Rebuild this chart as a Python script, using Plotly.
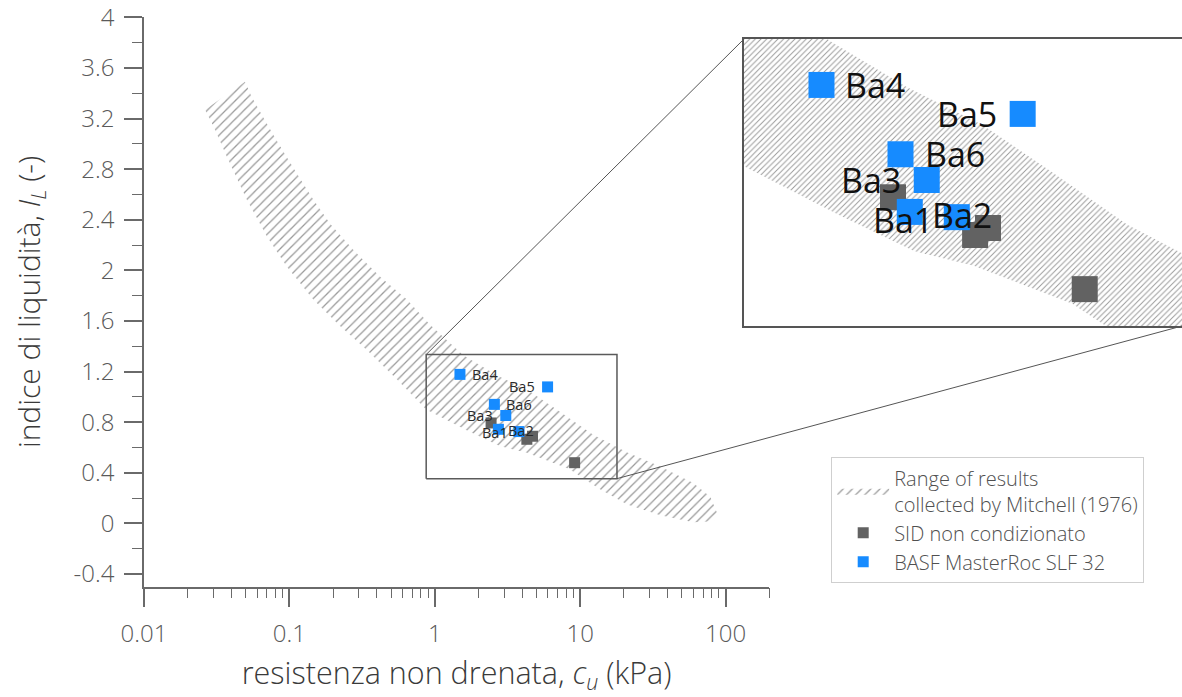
import math
import plotly.graph_objects as go

# Range of results collected by Mitchell (1976): upper and lower boundary of the band
band_upper_cu = [0.0495, 0.0551, 0.0699, 0.0863, 0.112, 0.146, 0.19, 0.276, 0.421, 0.643,
                 0.929, 1.57, 2.69, 4.54, 7.3, 12.3, 21.1, 35.6, 60.0, 78.5, 89.2]
band_upper_il = [3.49, 3.37, 3.16, 2.98, 2.77, 2.56, 2.37, 2.16, 1.95, 1.77,
                 1.57, 1.33, 1.17, 1.04, 0.88, 0.70, 0.56, 0.45, 0.32, 0.21, 0.06]
band_lower_cu = [0.0263, 0.030, 0.0371, 0.0509, 0.0699, 0.0959, 0.146, 0.223, 0.341, 0.548,
                 0.873, 1.67, 2.82, 4.26, 8.41, 13.7, 21.1, 35.6, 60.0, 82.4]
band_lower_il = [3.27, 3.14, 2.90, 2.56, 2.27, 2.03, 1.77, 1.56, 1.37, 1.14,
                 0.90, 0.735, 0.61, 0.56, 0.43, 0.27, 0.15, 0.064, 0.009, 0.017]

# SID non condizionato
sid_cu = [2.44, 4.70, 4.30, 9.16]
sid_il = [0.794, 0.689, 0.665, 0.48]

# BASF MasterRoc SLF 32
basf_names = ["Ba1", "Ba2", "Ba3", "Ba4", "Ba5", "Ba6"]
basf_cu = [2.74, 3.79, 3.08, 1.49, 5.97, 2.57]
basf_il = [0.744, 0.726, 0.853, 1.178, 1.079, 0.941]

# label placement for each BASF point: anchor and offset (px, at inset scale)
label_anchor = ["center", "center", "right", "left", "right", "left"]
label_dx = [-7, 5, -24, 22, -24, 22]
label_dy = [-8, 2, 0, 0, 0, 0]

# axis ticks
x_tickvals = [0.01, 0.1, 1, 10, 100]
x_ticktext = ["0.01", "0.1", "1", "10", "100"]
y_tickvals = [-0.4, 0, 0.4, 0.8, 1.2, 1.6, 2, 2.4, 2.8, 3.2, 3.6, 4]
y_ticktext = ["-0.4", "0", "0.4", "0.8", "1.2", "1.6", "2", "2.4", "2.8", "3.2", "3.6", "4"]

# zoom window
zoom_cu = [0.873, 17.92]
zoom_il = [0.354, 1.335]

W, H = 1182, 697
FONT = "Open Sans"
BLUE = "#168BFF"
GREY = "#626262"
AXIS = "#6a6a6a"

main_x_range = [-2, math.log10(200)]
main_y_range = [-0.5, 4]
main_x_dom = [144 / W, 769.3 / W]
main_y_dom = [1 - 586.7 / H, 1 - 17.3 / H]
ins_x_dom = [744 / W, 1.0]
ins_y_dom = [1 - 326 / H, 1 - 39 / H]
ins_x_range = [math.log10(zoom_cu[0]), math.log10(zoom_cu[1])]
ins_y_range = zoom_il

band_x = band_upper_cu + band_lower_cu[::-1] + band_upper_cu[:1]
band_y = band_upper_il + band_lower_il[::-1] + band_upper_il[:1]

fig = go.Figure()

for xa, ya, psize, sol, show in (("x", "y", 6.5, 0.2, True), ("x2", "y2", 4, 0.24, False)):
    fig.add_trace(go.Scatter(
        x=band_x, y=band_y, xaxis=xa, yaxis=ya, mode="lines", fill="toself",
        line=dict(width=0, color="rgba(0,0,0,0)"),
        fillcolor="rgba(255,255,255,0)",
        fillpattern=dict(shape="/", size=psize, solidity=sol,
                         fgcolor="#999999", bgcolor="rgba(255,255,255,0)"),
        name="Range of results<br>collected by Mitchell (1976)",
        legendgroup="band", showlegend=show, hoverinfo="skip"))

for xa, ya, msize, show in (("x", "y", 11, True), ("x2", "y2", 26, False)):
    fig.add_trace(go.Scatter(
        x=sid_cu, y=sid_il, xaxis=xa, yaxis=ya, mode="markers",
        marker=dict(symbol="square", size=msize, color=GREY),
        name="SID non condizionato", legendgroup="sid", showlegend=show))
    fig.add_trace(go.Scatter(
        x=basf_cu, y=basf_il, xaxis=xa, yaxis=ya, mode="markers",
        marker=dict(symbol="square", size=msize, color=BLUE),
        text=basf_names, name="BASF MasterRoc SLF 32",
        legendgroup="basf", showlegend=show))

# zoom window outline on the main axes
fig.add_trace(go.Scatter(
    x=[zoom_cu[0], zoom_cu[1], zoom_cu[1], zoom_cu[0], zoom_cu[0]],
    y=[zoom_il[0], zoom_il[0], zoom_il[1], zoom_il[1], zoom_il[0]],
    mode="lines", line=dict(color="#5a5a5a", width=1.5),
    showlegend=False, hoverinfo="skip"))

# point labels, main (small) and inset (large)
scale = (ins_x_dom[1] - ins_x_dom[0]) / (main_x_dom[1] - main_x_dom[0]) * \
    (main_x_range[1] - main_x_range[0]) / (ins_x_range[1] - ins_x_range[0])
for xr, yr, fsize, k, col in (("x", "y", 14.5, 1 / scale, "#2a2a2a"),
                              ("x2", "y2", 34, 1.0, "#111111")):
    for name, cu, il, anc, dx, dy in zip(basf_names, basf_cu, basf_il,
                                         label_anchor, label_dx, label_dy):
        fig.add_annotation(x=math.log10(cu), y=il, xref=xr, yref=yr, text=name,
                           showarrow=False, xanchor=anc, yanchor="middle",
                           xshift=dx * k, yshift=dy * k,
                           font=dict(family=FONT, size=fsize, color=col, weight=400))


def to_paper(v, rng, dom, log=False):
    if log:
        v = math.log10(v)
    return dom[0] + (v - rng[0]) / (rng[1] - rng[0]) * (dom[1] - dom[0])


# connector lines from the zoom window to the inset
conn = [
    ((zoom_cu[0], zoom_il[1]), (ins_x_dom[0], ins_y_dom[1])),
    ((zoom_cu[1], zoom_il[0]), (ins_x_dom[1], ins_y_dom[0])),
]
for (cu, il), (px, py) in conn:
    fig.add_shape(type="line", xref="paper", yref="paper",
                  x0=to_paper(cu, main_x_range, main_x_dom, log=True),
                  y0=to_paper(il, main_y_range, main_y_dom),
                  x1=px, y1=py, line=dict(color="#555555", width=1))

minor_x = [m * 10 ** e for e in range(-2, 3) for m in range(2, 10) if m * 10 ** e <= 200]

fig.update_layout(
    width=W, height=H, template="none",
    margin=dict(l=0, r=0, t=0, b=0),
    paper_bgcolor="white", plot_bgcolor="rgba(0,0,0,0)",
    font=dict(family=FONT, color="#555555", weight=300),
    xaxis=dict(type="log", range=main_x_range, domain=main_x_dom, anchor="y",
               showgrid=False, zeroline=False, showline=True, linecolor=AXIS, linewidth=1.5,
               ticks="outside", ticklen=19, tickwidth=1.5, tickcolor=AXIS,
               tickvals=x_tickvals, ticktext=x_ticktext, ticklabeloverflow="allow",
               tickfont=dict(size=24, color="#5a5a5a", weight=300), ticklabelstandoff=6,
               minor=dict(ticks="outside", ticklen=10, tickwidth=1.2, tickcolor=AXIS,
                          tickvals=minor_x, showgrid=False),
               automargin=False,
               title=dict(text="resistenza non drenata, <i>c<sub>u</sub></i> (kPa)",
                          font=dict(size=30.5, color="#3a3a3a", weight=300), standoff=14)),
    yaxis=dict(range=main_y_range, domain=main_y_dom, anchor="x",
               showgrid=False, zeroline=False, showline=True, linecolor=AXIS, linewidth=1.5,
               ticks="outside", ticklen=18, tickwidth=1.5, tickcolor=AXIS,
               tickvals=y_tickvals, ticktext=y_ticktext, ticklabeloverflow="allow",
               tickfont=dict(size=24, color="#5a5a5a", weight=300), ticklabelstandoff=5,
               minor=dict(ticks="outside", ticklen=10, tickwidth=1.2, tickcolor=AXIS,
                          dtick=0.2, tick0=0, showgrid=False),
               automargin=False,
               title=dict(text="indice di liquidità, <i>I<sub>L</sub></i> (-)",
                          font=dict(size=30, color="#3a3a3a", weight=300), standoff=24)),
    xaxis2=dict(type="log", range=ins_x_range, domain=ins_x_dom, anchor="y2",
                showgrid=False, zeroline=False, showline=True, mirror=True,
                linecolor="#555555", linewidth=1.5, ticks="", showticklabels=False,
                automargin=False),
    yaxis2=dict(range=ins_y_range, domain=ins_y_dom, anchor="x2",
                showgrid=False, zeroline=False, showline=True, mirror=True,
                linecolor="#555555", linewidth=1.5, ticks="", showticklabels=False,
                automargin=False),
    legend=dict(x=831 / W, y=1 - 457 / H, xanchor="left", yanchor="top",
                bgcolor="white", bordercolor="#cfcfcf", borderwidth=1.2,
                font=dict(family=FONT, size=20, color="#505050", weight=300),
                tracegroupgap=0, itemwidth=52),
)

fig.write_html("out.html")
